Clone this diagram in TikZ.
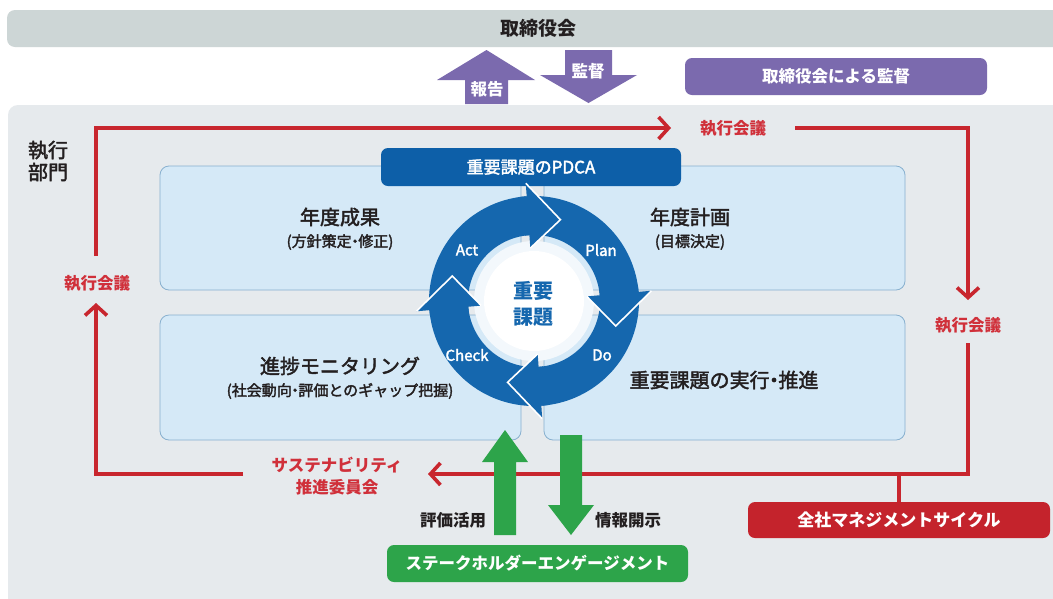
\documentclass[tikz,border=0pt]{standalone}
\usepackage{fontspec}
\setmainfont{Noto Sans CJK JP}
\newfontfamily\medfont[FakeBold=2.2]{Noto Sans CJK JP}
\usetikzlibrary{arrows.meta,calc}
\definecolor{topbar}{HTML}{CDD6D6}
\definecolor{purp}{HTML}{7B6AAE}
\definecolor{area}{HTML}{E6EAED}
\definecolor{redc}{HTML}{C8262E}
\definecolor{redt}{HTML}{D0303A}
\definecolor{boxfill}{HTML}{D5E9F7}
\definecolor{boxedge}{HTML}{88B0CF}
\definecolor{pdca}{HTML}{0D5FA8}
\definecolor{ring}{HTML}{1567AE}
\definecolor{grn}{HTML}{2DA44A}
\definecolor{redbox}{HTML}{C4232C}
\definecolor{txt}{HTML}{231F20}
\definecolor{halo}{HTML}{F3F8FC}
\newcommand\tdot{\kern-0.28em・\kern-0.28em}
\begin{document}
\begin{tikzpicture}[x=1pt,y=-1pt,
  every node/.style={inner sep=0pt,outer sep=0pt},
  redline/.style={draw=redc,line width=3.6pt},
  redtip/.style={-{Straight Barb[length=10pt,width=22pt]}},
  redlbl/.style={text=redt,align=center,font=\fontsize{16.5}{20}\selectfont\bfseries},
  qbox/.style={draw=boxedge,fill=boxfill,line width=0.8pt,rounded corners=9pt,minimum width=361pt,minimum height=124pt},
  maintxt/.style={text=txt,font=\fontsize{20}{24}\selectfont\medfont},
  subtxt/.style={text=txt,font=\fontsize{15}{18}\selectfont\medfont},
  wbox/.style={text=white,rounded corners=7pt,font=\fontsize{16.5}{20}\selectfont\bfseries},
  pdcal/.style={text=white,font=\fontsize{15}{18}\selectfont\medfont},
  grnlbl/.style={text=txt,font=\fontsize{16.5}{20}\selectfont\bfseries},
]
\useasboundingbox (0,0) rectangle (1053,598);
\fill[white] (0,0) rectangle (1053,598);
% top bar
\fill[topbar,rounded corners=8pt] (7,10) rectangle (1075,47);
\node[text=txt,font=\fontsize{19}{22}\selectfont\bfseries] (board) at (538,28) {取締役会};
% purple arrows
\fill[purp] (465,104) -- (465,80) -- (437,80) -- (486.5,50) -- (535,80) -- (508,80) -- (508,104) -- cycle;
\fill[purp] (565,50) -- (612,50) -- (612,75) -- (637,75) -- (588.5,103) -- (540,75) -- (565,75) -- cycle;
\node[text=white,font=\fontsize{16.5}{20}\selectfont\bfseries] (rep) at (487,89) {報告};
\node[text=white,font=\fontsize{16.5}{20}\selectfont\bfseries] (sup) at (588,71) {監督};
\node[wbox,fill=purp,minimum width=302pt,minimum height=37pt] (bsup) at (836,76.5) {取締役会による監督};
% executive area
\fill[area,rounded corners=10pt] (8,105) rectangle (1075,615);
\node[text=txt,align=center,font=\fontsize{20}{22}\selectfont\medfont] (exec) at (48,161) {執行\\部門};
% quadrant boxes
\node[qbox] (q1) at (340.5,228) {};
\node[qbox] (q2) at (724.5,228) {};
\node[qbox,minimum height=125pt] (q3) at (340.5,377.5) {};
\node[qbox,minimum height=125pt] (q4) at (724.5,377.5) {};
\node[maintxt] (t1) at (340,217) {年度成果};
\node[subtxt] (s1) at (340,242) {(方針策定\tdot 修正)};
\node[maintxt] (t2) at (690,217) {年度計画};
\node[subtxt] (s2) at (690,242) {(目標決定)};
\node[maintxt] (t3) at (340,366) {進捗モニタリング};
\node[subtxt] (s3) at (340,391) {(社会動向\tdot 評価とのギャップ把握)};
\node[maintxt] (t4) at (724,380) {重要課題の実行\tdot 推進};
% PDCA header
\node[wbox,fill=pdca,minimum width=300pt,minimum height=38pt,font=\fontsize{17}{20}\selectfont\medfont] (hdr) at (531,167) {重要課題のPDCA};
% ring
\begin{scope}[shift={(534,301)}]
  \fill[halo] (0,0) circle[radius=60pt];
  \fill[white] (0,0) circle[radius=50pt];
  \foreach \s/\b in {-189/-94,-98/-5,-9/86,82/175}{
    \fill[ring] plot[domain=\s:\b,samples=40] (\x:105) -- plot[domain=\b:\s,samples=40] (\x:66) -- cycle;
  }
  \foreach \b/\t in {-94/-72,-5/17,86/108,175/197}{
    \fill[ring] (\b:53) -- (\t:85.5) -- (\b:118) -- cycle;
    \draw[white,line width=1.6pt,line join=miter] (\b:53) -- (\t:85.5) -- (\b:118);
  }
\end{scope}
\node[pdcal] (act) at (467,250) {Act};
\node[pdcal] (plan) at (601,250) {Plan};
\node[pdcal] (check) at (467,355) {Check};
\node[pdcal] (do) at (602,355) {Do};
\node[text=ring,align=center,font=\fontsize{20}{26}\selectfont\bfseries] (core) at (533,304) {重要\\課題};
% red management cycle
\node[redlbl] (m1) at (733,128) {執行会議};
\node[redlbl] (m2) at (968,325) {執行会議};
\node[redlbl] (m3) at (97,283) {執行会議};
\node[redlbl,font=\fontsize{16.5}{22}\selectfont\bfseries] (sus) at (337,476) {サステナビリティ\\推進委員会};
\coordinate (L1) at (96,256);
\coordinate (TL) at (96,128);
\coordinate (T1) at (671,128);
\coordinate (T2) at (795,128);
\coordinate (TR) at (968,128);
\coordinate (R1) at (968,300);
\coordinate (R2) at (968,343);
\coordinate (BR) at (968,474);
\coordinate (B1) at (428,474);
\coordinate (B2) at (243,474);
\coordinate (BL) at (96,474);
\coordinate (L2) at (96,303);
\coordinate (J) at (899,474);
\draw[redline,redtip] (L1) -- (TL) -- (T1);
\draw[redline,redtip] (T2) -- (TR) -- (R1);
\draw[redline,redtip] (R2) -- (BR) -- (B1);
\draw[redline,redtip] (B2) -- (BL) -- (L2);
\node[wbox,fill=redbox,minimum width=302pt,minimum height=36pt,font=\fontsize{17}{20}\selectfont\bfseries] (mgmt) at (899,520) {全社マネジメントサイクル};
\draw[redline] (J) -- (mgmt.north);
% stakeholder arrows
\fill[grn] (494,535) -- (494,462) -- (482,462) -- (505,430) -- (528,462) -- (516,462) -- (516,535) -- cycle;
\fill[grn] (560,435) -- (582,435) -- (582,505) -- (594,505) -- (571,535) -- (548,505) -- (560,505) -- cycle;
\node[grnlbl] (use) at (453,520) {評価活用};
\node[grnlbl] (disc) at (628,520) {情報開示};
\node[wbox,fill=grn,minimum width=301pt,minimum height=37pt] (stake) at (537.5,563.5) {ステークホルダーエンゲージメント};
\end{tikzpicture}
\end{document}
